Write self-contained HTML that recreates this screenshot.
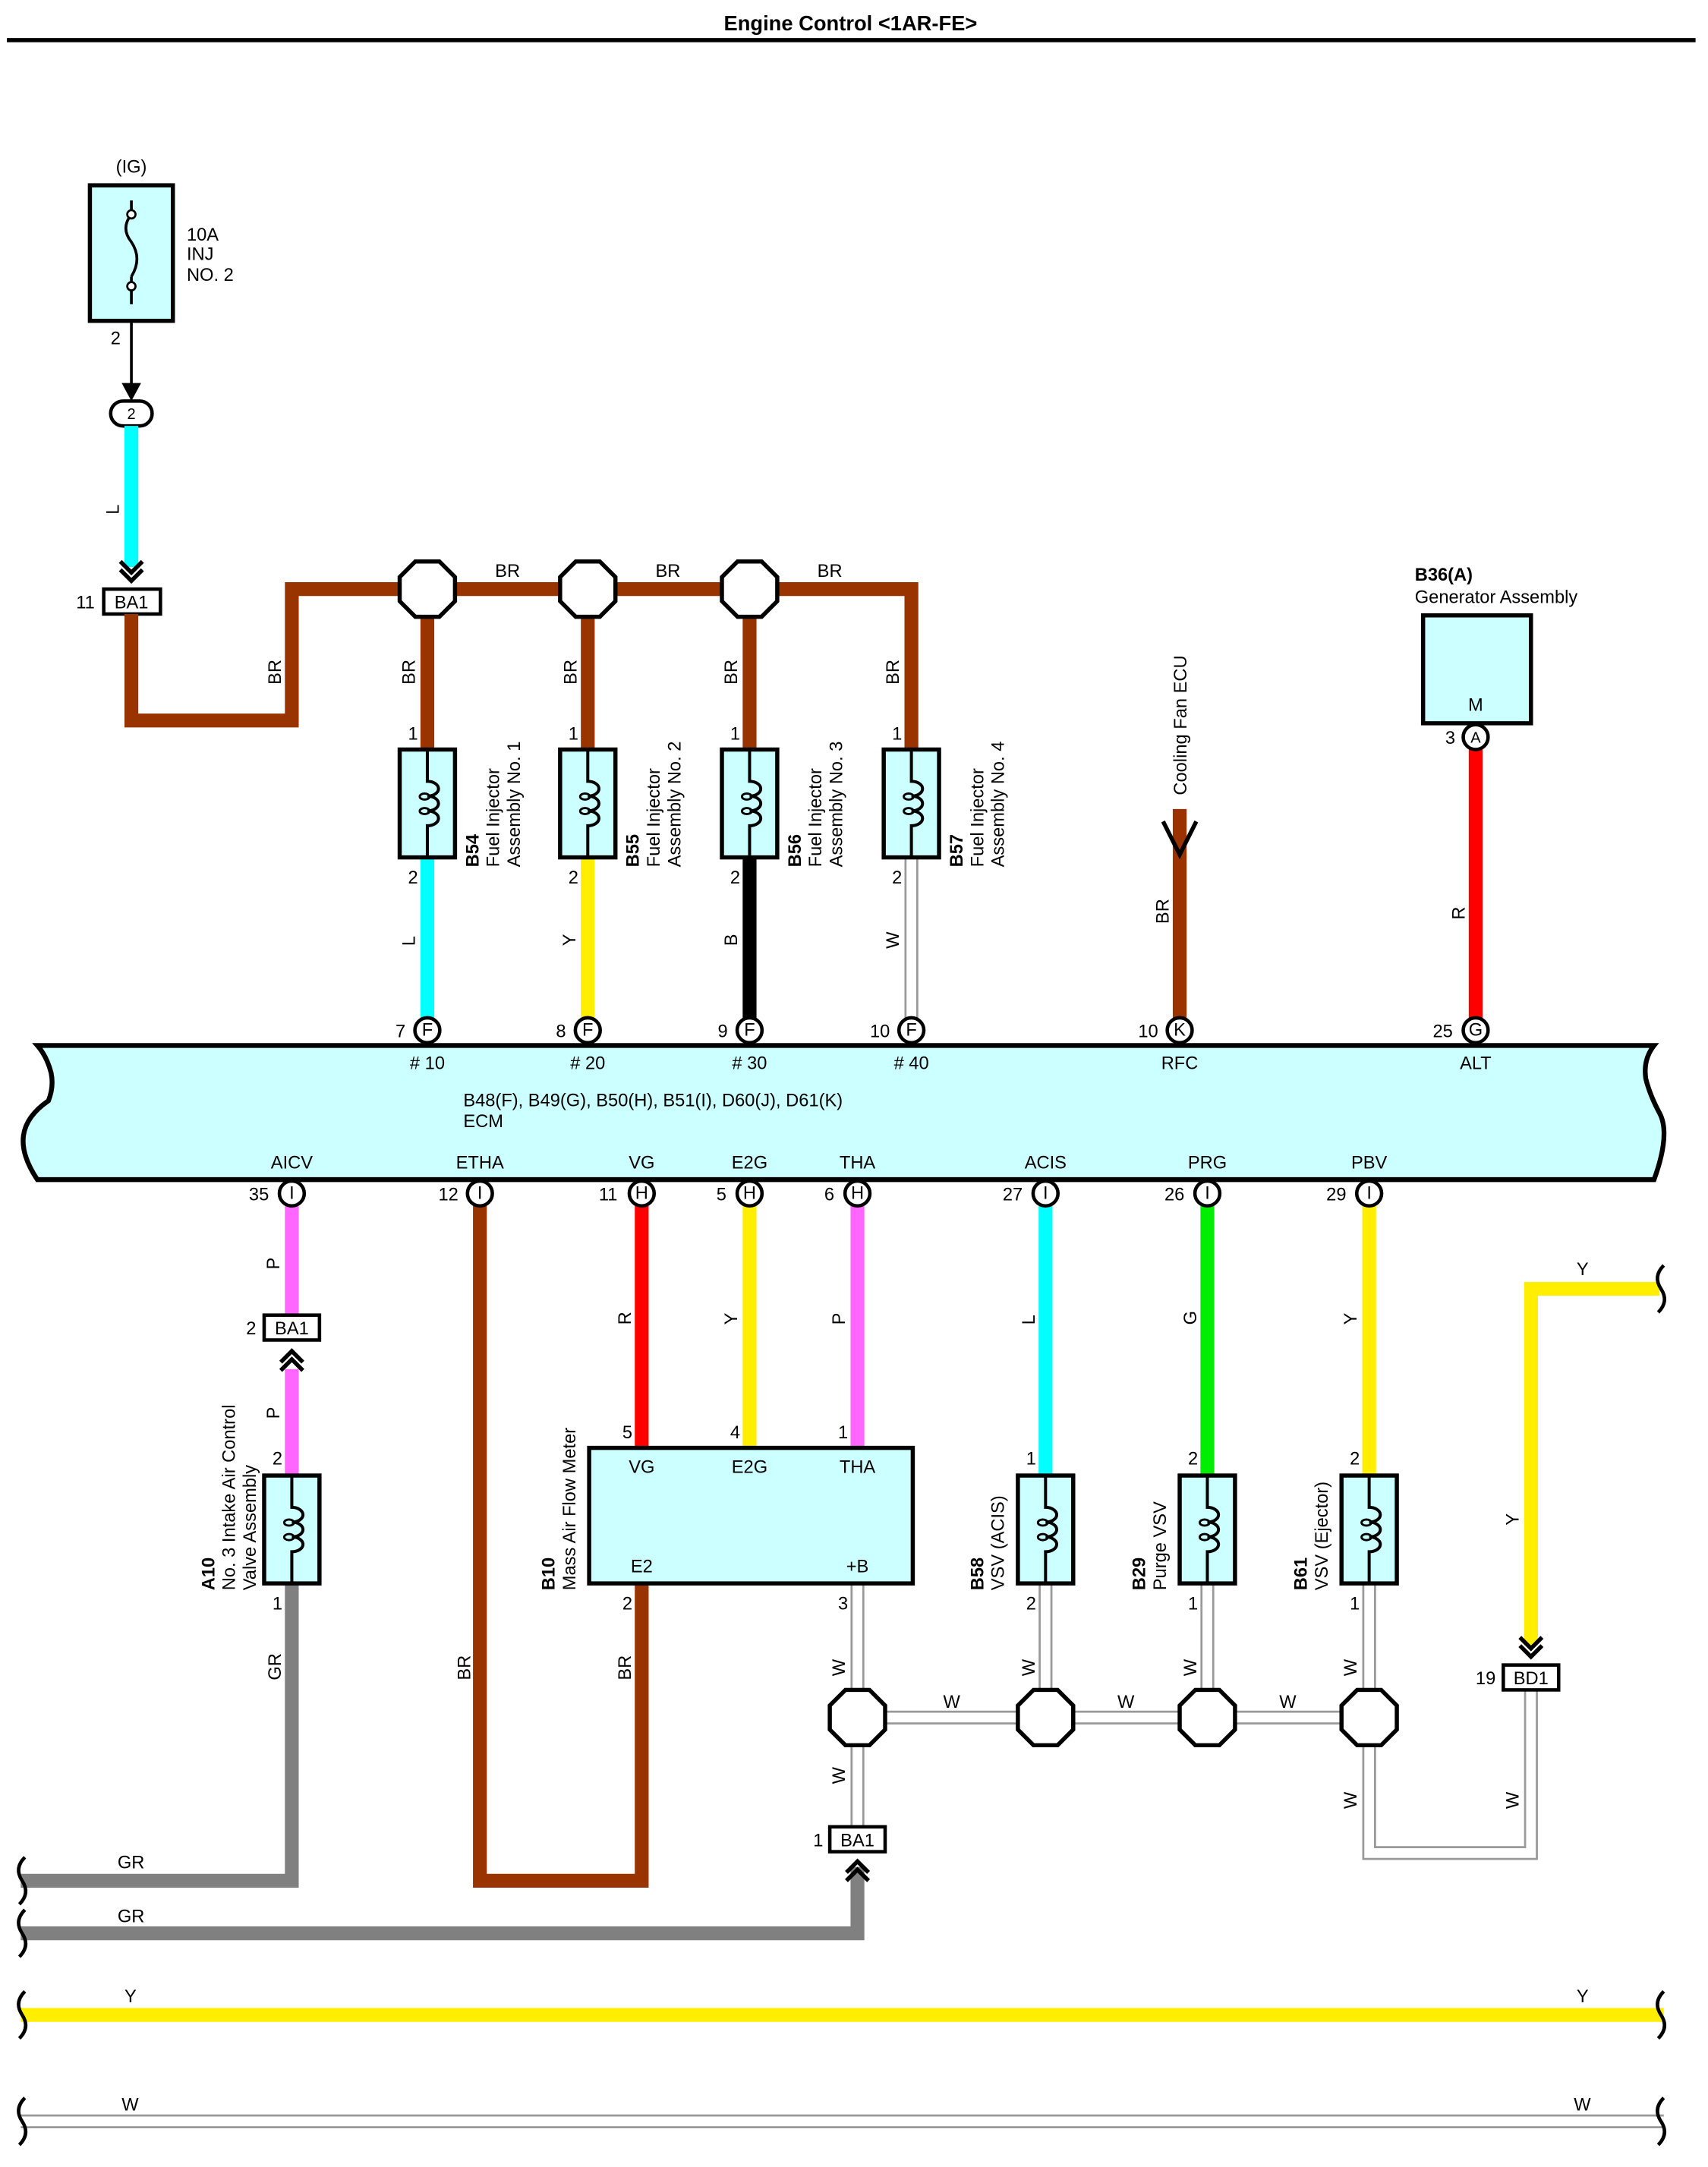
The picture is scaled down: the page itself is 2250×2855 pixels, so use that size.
<!DOCTYPE html>
<html><head><meta charset="utf-8"><style>
html,body{margin:0;padding:0;background:#fff}
svg{display:block}
text{font-family:"Liberation Sans",Arial,sans-serif;font-size:13px;fill:#000}
.w{fill:none;stroke-linejoin:miter;stroke-linecap:butt}
</style></head><body>
<svg width="2250" height="2855" viewBox="0 0 1235 1567" preserveAspectRatio="none" xmlns="http://www.w3.org/2000/svg">
<defs>
<polygon id="oct" points="-8.7,-20 8.7,-20 20,-8.7 20,8.7 8.7,20 -8.7,20 -20,8.7 -20,-8.7" fill="#fff" stroke="#000" stroke-width="3"/>
<g id="coil"><rect x="-20" y="-39" width="40" height="78" fill="#ccffff" stroke="#000" stroke-width="3"/>
<path d="M0,-39 V-16 a8,5.3 0 0 1 0,10.7 a8,5.3 0 0 1 0,10.7 a8,5.3 0 0 1 0,10.7 V39" fill="none" stroke="#000" stroke-width="2.2"/>
<ellipse cx="-2" cy="-5" rx="3.5" ry="2.2" fill="none" stroke="#000" stroke-width="1.6"/>
<ellipse cx="-2" cy="5.5" rx="3.5" ry="2.2" fill="none" stroke="#000" stroke-width="1.6"/></g>
<path id="chevD" d="M-8,-8 L0,0 L8,-8 M-8,-2 L0,6 L8,-2" fill="none" stroke="#000" stroke-width="3"/>
<path id="chevU" d="M-8,8 L0,0 L8,8 M-8,2 L0,-6 L8,2" fill="none" stroke="#000" stroke-width="3"/>
<path id="wavyL" d="M0,-17 q-8,8 -2,17 q6,9 -2,17" fill="none" stroke="#000" stroke-width="2.5"/>
</defs>

<text x="615" y="22" text-anchor="middle" font-weight="bold" style="font-size:15px">Engine Control &lt;1AR-FE&gt;</text>
<line x1="5" y1="29" x2="1226" y2="29" stroke="#000" stroke-width="3"/>

<!-- fuse -->
<text x="95" y="125" text-anchor="middle">(IG)</text>
<rect x="65" y="134" width="60" height="98" fill="#ccffff" stroke="#000" stroke-width="3"/>
<path d="M95,155 q-8,10 0,20 q8,12 0,25 M95,155 V145 M95,200 V220" fill="none" stroke="#000" stroke-width="2"/>
<circle cx="95" cy="155" r="3" fill="#fff" stroke="#000" stroke-width="1.5"/>
<circle cx="95" cy="207" r="3" fill="#fff" stroke="#000" stroke-width="1.5"/>
<text x="135" y="174">10A</text><text x="135" y="188">INJ</text><text x="135" y="203">NO. 2</text>
<text x="80" y="249">2</text>
<line x1="95" y1="232" x2="95" y2="285" stroke="#000" stroke-width="2"/>
<polygon points="88,277 95,290 102,277" fill="#000"/>
<rect x="80" y="290" width="30" height="18" rx="9" fill="#fff" stroke="#000" stroke-width="2.5"/>
<text x="95" y="303" text-anchor="middle" style="font-size:11px">2</text>

<!-- L cyan -->
<line x1="95" y1="308" x2="95" y2="410" stroke="#00ffff" stroke-width="10"/>
<text transform="translate(86,372) rotate(-90)">L</text>
<use href="#chevD" x="95" y="414"/>
<rect x="75" y="426" width="41" height="18" fill="#fff" stroke="#000" stroke-width="2.5"/>
<text x="95" y="440" text-anchor="middle">BA1</text>
<text x="55" y="440">11</text>

<!-- BR main -->
<polyline class="w" points="95,444 95,521 211,521 211,426 659,426 659,542" stroke="#993300" stroke-width="10"/>
<line x1="309" y1="426" x2="309" y2="542" stroke="#993300" stroke-width="10"/>
<line x1="425" y1="426" x2="425" y2="542" stroke="#993300" stroke-width="10"/>
<line x1="542" y1="426" x2="542" y2="542" stroke="#993300" stroke-width="10"/>
<use href="#oct" x="309" y="426"/><use href="#oct" x="425" y="426"/><use href="#oct" x="542" y="426"/>
<text x="367" y="417" text-anchor="middle">BR</text><text x="483" y="417" text-anchor="middle">BR</text><text x="600" y="417" text-anchor="middle">BR</text>
<text transform="translate(203,495) rotate(-90)">BR</text>
<text transform="translate(300,495) rotate(-90)">BR</text>
<text transform="translate(417,495) rotate(-90)">BR</text>
<text transform="translate(533,495) rotate(-90)">BR</text>
<text transform="translate(650,495) rotate(-90)">BR</text>

<!-- injector lower wires -->
<line x1="309" y1="620" x2="309" y2="738" stroke="#00ffff" stroke-width="10"/>
<line x1="425" y1="620" x2="425" y2="738" stroke="#ffee00" stroke-width="10"/>
<line x1="542" y1="620" x2="542" y2="738" stroke="#000" stroke-width="10"/>
<line x1="659" y1="620" x2="659" y2="738" stroke="#999" stroke-width="10"/>
<line x1="659" y1="620" x2="659" y2="738" stroke="#fff" stroke-width="7"/>
<text transform="translate(300,684) rotate(-90)">L</text>
<text transform="translate(416,684) rotate(-90)">Y</text>
<text transform="translate(533,684) rotate(-90)">B</text>
<text transform="translate(650,686) rotate(-90)">W</text>

<use href="#coil" x="309" y="581"/><use href="#coil" x="425" y="581"/><use href="#coil" x="542" y="581"/><use href="#coil" x="659" y="581"/>
<text x="295" y="535">1</text><text x="411" y="535">1</text><text x="528" y="535">1</text><text x="645" y="535">1</text>
<text x="295" y="639">2</text><text x="411" y="639">2</text><text x="528" y="639">2</text><text x="645" y="639">2</text>
<g>
<text transform="translate(346,627) rotate(-90)" font-weight="bold">B54</text>
<text transform="translate(361,627) rotate(-90)">Fuel Injector</text>
<text transform="translate(376,627) rotate(-90)">Assembly No. 1</text>
<text transform="translate(462,627) rotate(-90)" font-weight="bold">B55</text>
<text transform="translate(477,627) rotate(-90)">Fuel Injector</text>
<text transform="translate(492,627) rotate(-90)">Assembly No. 2</text>
<text transform="translate(579,627) rotate(-90)" font-weight="bold">B56</text>
<text transform="translate(594,627) rotate(-90)">Fuel Injector</text>
<text transform="translate(609,627) rotate(-90)">Assembly No. 3</text>
<text transform="translate(696,627) rotate(-90)" font-weight="bold">B57</text>
<text transform="translate(711,627) rotate(-90)">Fuel Injector</text>
<text transform="translate(726,627) rotate(-90)">Assembly No. 4</text>
</g>

<!-- cooling fan -->
<line x1="853" y1="585" x2="853" y2="738" stroke="#993300" stroke-width="10"/>
<path d="M841,594 L853,618 L865,594" fill="none" stroke="#000" stroke-width="3"/>
<text transform="translate(858,575) rotate(-90)">Cooling Fan ECU</text>
<text transform="translate(845,668) rotate(-90)">BR</text>

<!-- generator -->
<text x="1023" y="420" font-weight="bold">B36(A)</text>
<text x="1023" y="436">Generator Assembly</text>
<rect x="1029" y="445" width="78" height="78" fill="#ccffff" stroke="#000" stroke-width="3"/>
<text x="1067" y="514" text-anchor="middle">M</text>
<line x1="1067" y1="540" x2="1067" y2="738" stroke="#ff0000" stroke-width="10"/>
<circle cx="1067" cy="533" r="9" fill="#fff" stroke="#000" stroke-width="2.5"/>
<text x="1067" y="537" text-anchor="middle" style="font-size:11px">A</text>
<text x="1045" y="538">3</text>
<text transform="translate(1059,665) rotate(-90)">R</text>

<!-- ECM -->
<path d="M27,756 H1196 q-8,10 -6,24 q3,12 10,25 q8,15 -4,48 H27 q-12,-18 -10,-32 q2,-14 18,-25 q4,-10 2,-20 q-3,-12 -10,-20 z" fill="#ccffff" stroke="#000" stroke-width="3.5"/>
<g style="font-size:11px" text-anchor="middle">
<circle cx="309" cy="745" r="9" fill="#fff" stroke="#000" stroke-width="2.5"/><text x="309" y="749">F</text>
<circle cx="425" cy="745" r="9" fill="#fff" stroke="#000" stroke-width="2.5"/><text x="425" y="749">F</text>
<circle cx="542" cy="745" r="9" fill="#fff" stroke="#000" stroke-width="2.5"/><text x="542" y="749">F</text>
<circle cx="659" cy="745" r="9" fill="#fff" stroke="#000" stroke-width="2.5"/><text x="659" y="749">F</text>
<circle cx="853" cy="745" r="9" fill="#fff" stroke="#000" stroke-width="2.5"/><text x="853" y="749">K</text>
<circle cx="1067" cy="745" r="9" fill="#fff" stroke="#000" stroke-width="2.5"/><text x="1067" y="749">G</text>
</g>
<text x="286" y="750">7</text><text x="402" y="750">8</text><text x="519" y="750">9</text><text x="629" y="750">10</text><text x="823" y="750">10</text><text x="1036" y="750">25</text>
<g text-anchor="middle">
<text x="309" y="773"># 10</text><text x="425" y="773"># 20</text><text x="542" y="773"># 30</text><text x="659" y="773"># 40</text><text x="853" y="773">RFC</text><text x="1067" y="773">ALT</text>
<text x="211" y="845">AICV</text><text x="347" y="845">ETHA</text><text x="464" y="845">VG</text><text x="542" y="845">E2G</text><text x="620" y="845">THA</text><text x="756" y="845">ACIS</text><text x="873" y="845">PRG</text><text x="990" y="845">PBV</text>
</g>
<text x="335" y="800">B48(F), B49(G), B50(H), B51(I), D60(J), D61(K)</text>
<text x="335" y="815">ECM</text>

<!-- lower wires -->
<line x1="211" y1="872" x2="211" y2="951" stroke="#ff66ff" stroke-width="10"/>
<line x1="211" y1="990" x2="211" y2="1067" stroke="#ff66ff" stroke-width="10"/>
<polyline class="w" points="211,1145 211,1360 15,1360" stroke="#808080" stroke-width="10"/>
<polyline class="w" points="347,872 347,1360 464,1360 464,1145" stroke="#993300" stroke-width="10"/>
<line x1="464" y1="872" x2="464" y2="1047" stroke="#ff0000" stroke-width="10"/>
<line x1="542" y1="872" x2="542" y2="1047" stroke="#ffee00" stroke-width="10"/>
<line x1="620" y1="872" x2="620" y2="1047" stroke="#ff66ff" stroke-width="10"/>
<line x1="756" y1="872" x2="756" y2="1067" stroke="#00ffff" stroke-width="10"/>
<line x1="873" y1="872" x2="873" y2="1067" stroke="#00ee00" stroke-width="10"/>
<line x1="990" y1="872" x2="990" y2="1067" stroke="#ffee00" stroke-width="10"/>
<polyline class="w" points="620,1350 620,1398 15,1398" stroke="#808080" stroke-width="10"/>
<polyline class="w" points="1107,1190 1107,932 1200,932" stroke="#ffee00" stroke-width="10"/>
<line x1="15" y1="1457" x2="1203" y2="1457" stroke="#ffee00" stroke-width="10"/>
<!-- white wires -->
<g stroke="#999" stroke-width="10" class="w">
<polyline points="620,1145 620,1321"/>
<polyline points="756,1145 756,1242"/><polyline points="873,1145 873,1242"/>
<polyline points="620,1242 990,1242"/>
<polyline points="990,1145 990,1340 1107,1340 1107,1222"/>
<line x1="15" y1="1534" x2="1203" y2="1534"/>
</g>
<g stroke="#fff" stroke-width="7" class="w">
<polyline points="620,1145 620,1321"/>
<polyline points="756,1145 756,1242"/><polyline points="873,1145 873,1242"/>
<polyline points="620,1242 990,1242"/>
<polyline points="990,1145 990,1340 1107,1340 1107,1222"/>
<line x1="15" y1="1534" x2="1203" y2="1534"/>
</g>
<use href="#oct" x="620" y="1242"/><use href="#oct" x="756" y="1242"/><use href="#oct" x="873" y="1242"/><use href="#oct" x="990" y="1242"/>

<g style="font-size:11px" text-anchor="middle">
<circle cx="211" cy="863" r="9" fill="#fff" stroke="#000" stroke-width="2.5"/><text x="211" y="867">I</text>
<circle cx="347" cy="863" r="9" fill="#fff" stroke="#000" stroke-width="2.5"/><text x="347" y="867">I</text>
<circle cx="464" cy="863" r="9" fill="#fff" stroke="#000" stroke-width="2.5"/><text x="464" y="867">H</text>
<circle cx="542" cy="863" r="9" fill="#fff" stroke="#000" stroke-width="2.5"/><text x="542" y="867">H</text>
<circle cx="620" cy="863" r="9" fill="#fff" stroke="#000" stroke-width="2.5"/><text x="620" y="867">H</text>
<circle cx="756" cy="863" r="9" fill="#fff" stroke="#000" stroke-width="2.5"/><text x="756" y="867">I</text>
<circle cx="873" cy="863" r="9" fill="#fff" stroke="#000" stroke-width="2.5"/><text x="873" y="867">I</text>
<circle cx="990" cy="863" r="9" fill="#fff" stroke="#000" stroke-width="2.5"/><text x="990" y="867">I</text>
</g>
<text x="180" y="868">35</text><text x="317" y="868">12</text><text x="433" y="868">11</text><text x="518" y="868">5</text><text x="596" y="868">6</text><text x="725" y="868">27</text><text x="842" y="868">26</text><text x="959" y="868">29</text>

<!-- AICV -->
<rect x="191" y="951" width="40" height="18" fill="#fff" stroke="#000" stroke-width="2.5"/>
<text x="211" y="965" text-anchor="middle">BA1</text><text x="178" y="965">2</text>
<use href="#chevU" x="211" y="983"/>
<text transform="translate(202,918) rotate(-90)">P</text>
<text transform="translate(202,1026) rotate(-90)">P</text>
<text x="197" y="1059">2</text>
<use href="#coil" x="211" y="1106"/>
<text x="197" y="1164">1</text>
<text transform="translate(203,1215) rotate(-90)">GR</text>
<text x="85" y="1351">GR</text>
<text transform="translate(155,1150) rotate(-90)" font-weight="bold">A10</text>
<text transform="translate(170,1150) rotate(-90)">No. 3 Intake Air Control</text>
<text transform="translate(185,1150) rotate(-90)">Valve Assembly</text>
<text transform="translate(340,1215) rotate(-90)">BR</text>
<text transform="translate(456,1215) rotate(-90)">BR</text>

<!-- MAF -->
<rect x="426" y="1047" width="234" height="98" fill="#ccffff" stroke="#000" stroke-width="3"/>
<g text-anchor="middle"><text x="464" y="1065">VG</text><text x="542" y="1065">E2G</text><text x="620" y="1065">THA</text><text x="464" y="1137">E2</text><text x="620" y="1137">+B</text></g>
<text x="450" y="1040">5</text><text x="528" y="1040">4</text><text x="606" y="1040">1</text>
<text x="450" y="1164">2</text><text x="606" y="1164">3</text>
<text transform="translate(456,958) rotate(-90)">R</text>
<text transform="translate(533,958) rotate(-90)">Y</text>
<text transform="translate(611,958) rotate(-90)">P</text>
<text transform="translate(401,1150) rotate(-90)" font-weight="bold">B10</text>
<text transform="translate(416,1150) rotate(-90)">Mass Air Flow Meter</text>

<!-- VSVs -->
<use href="#coil" x="756" y="1106"/><use href="#coil" x="873" y="1106"/><use href="#coil" x="990" y="1106"/>
<text transform="translate(748,958) rotate(-90)">L</text>
<text transform="translate(865,958) rotate(-90)">G</text>
<text transform="translate(981,958) rotate(-90)">Y</text>
<text x="742" y="1059">1</text><text x="859" y="1059">2</text><text x="976" y="1059">2</text>
<text x="742" y="1164">2</text><text x="859" y="1164">1</text><text x="976" y="1164">1</text>
<text transform="translate(711,1150) rotate(-90)" font-weight="bold">B58</text>
<text transform="translate(726,1150) rotate(-90)">VSV (ACIS)</text>
<text transform="translate(828,1150) rotate(-90)" font-weight="bold">B29</text>
<text transform="translate(843,1150) rotate(-90)">Purge VSV</text>
<text transform="translate(945,1150) rotate(-90)" font-weight="bold">B61</text>
<text transform="translate(960,1150) rotate(-90)">VSV (Ejector)</text>
<text transform="translate(611,1212) rotate(-90)">W</text>
<text transform="translate(748,1212) rotate(-90)">W</text>
<text transform="translate(865,1212) rotate(-90)">W</text>
<text transform="translate(981,1212) rotate(-90)">W</text>
<text transform="translate(611,1290) rotate(-90)">W</text>
<text transform="translate(981,1308) rotate(-90)">W</text>
<text transform="translate(1098,1308) rotate(-90)">W</text>
<text x="682" y="1235">W</text><text x="808" y="1235">W</text><text x="925" y="1235">W</text>

<rect x="600" y="1321" width="40" height="18" fill="#fff" stroke="#000" stroke-width="2.5"/>
<text x="620" y="1335" text-anchor="middle">BA1</text><text x="588" y="1335">1</text>
<use href="#chevU" x="620" y="1352"/>
<text x="85" y="1390">GR</text>

<!-- BD1 -->
<use href="#chevD" x="1107" y="1192"/>
<rect x="1087" y="1204" width="40" height="18" fill="#fff" stroke="#000" stroke-width="2.5"/>
<text x="1107" y="1218" text-anchor="middle">BD1</text><text x="1067" y="1218">19</text>
<text x="1140" y="922">Y</text>
<text transform="translate(1098,1103) rotate(-90)">Y</text>

<text x="90" y="1448">Y</text><text x="1140" y="1448">Y</text>
<text x="88" y="1526">W</text><text x="1138" y="1526">W</text>

<!-- wavy ends -->
<use href="#wavyL" x="18" y="1360"/><use href="#wavyL" x="18" y="1398"/><use href="#wavyL" x="18" y="1457"/><use href="#wavyL" x="18" y="1534"/>
<use href="#wavyL" x="1203" y="932"/><use href="#wavyL" x="1203" y="1457"/><use href="#wavyL" x="1203" y="1534"/>
</svg>
</body></html>
